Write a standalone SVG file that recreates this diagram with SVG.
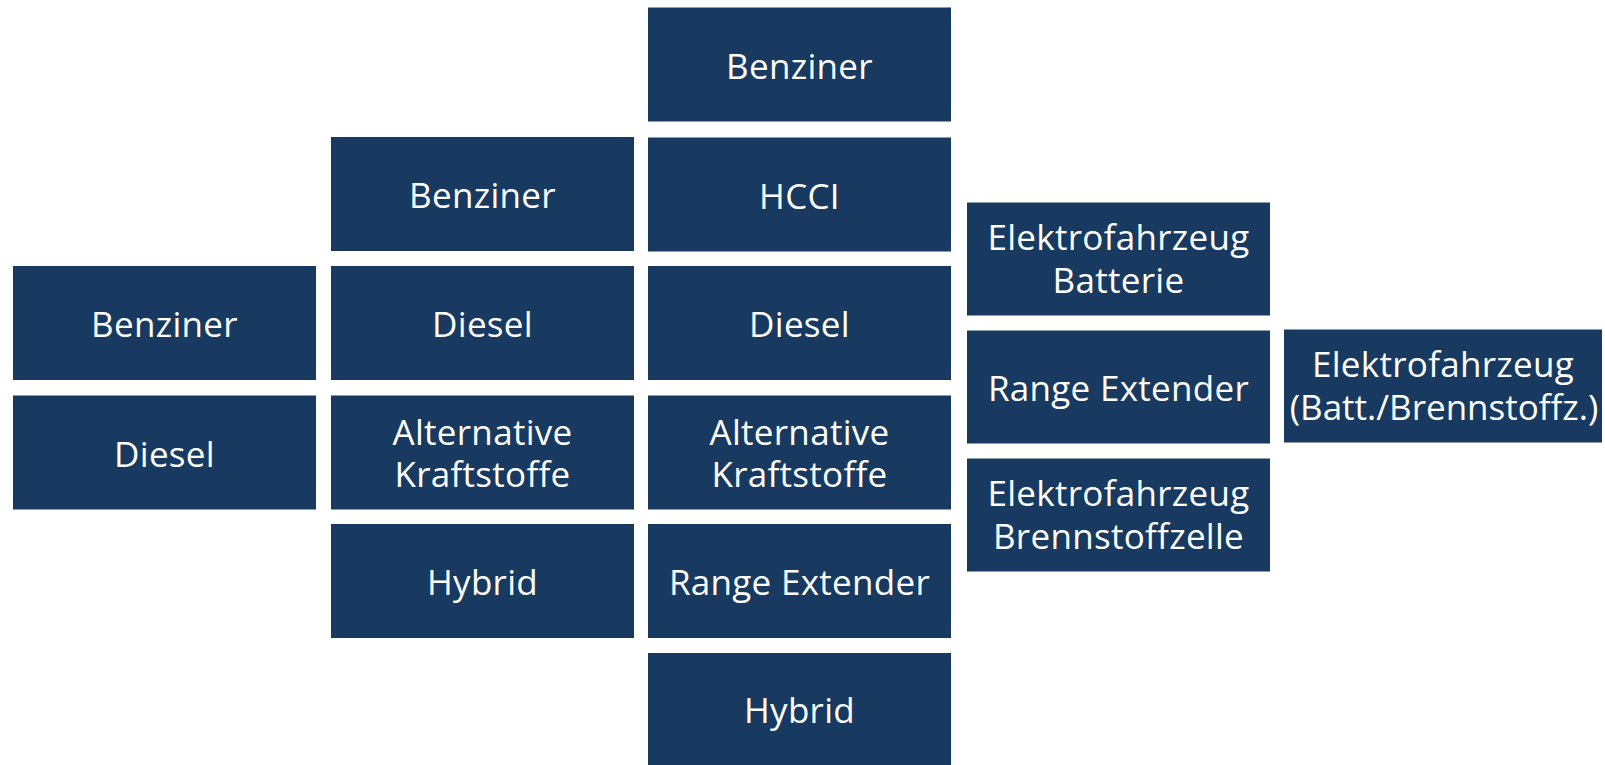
<svg xmlns="http://www.w3.org/2000/svg" width="1605" height="765" viewBox="0 0 1605 765">
<style>
.box{fill:#183a60}
.t{fill:#ffffff;font-family:"Open Sans","Noto Sans","Liberation Sans",sans-serif;font-size:35px;letter-spacing:0.3px;text-anchor:middle}
.tight{letter-spacing:0px}
</style>
<rect x="0" y="0" width="1605" height="765" fill="#ffffff"/>
<g id="c1-benziner"><rect class="box" x="13" y="266" width="303" height="114"/><text class="t" x="164.5" y="337">Benziner</text></g>
<g id="c1-diesel"><rect class="box" x="13" y="395.5" width="303" height="114"/><text class="t" x="164.5" y="466.5">Diesel</text></g>

<g id="c2-benziner"><rect class="box" x="331" y="137" width="303" height="114"/><text class="t" x="482.5" y="208">Benziner</text></g>
<g id="c2-diesel"><rect class="box" x="331" y="266" width="303" height="114"/><text class="t" x="482.5" y="337">Diesel</text></g>
<g id="c2-alt"><rect class="box" x="331" y="395.5" width="303" height="114"/><text class="t" x="482.5" y="444.5">Alternative</text><text class="t" x="482.5" y="487">Kraftstoffe</text></g>
<g id="c2-hybrid"><rect class="box" x="331" y="524" width="303" height="114"/><text class="t" x="482.5" y="595">Hybrid</text></g>

<g id="c3-benziner"><rect class="box" x="648" y="7.5" width="303" height="114"/><text class="t" x="799.5" y="78.5">Benziner</text></g>
<g id="c3-hcci"><rect class="box" x="648" y="137.5" width="303" height="114"/><text class="t" x="799.5" y="209">HCCI</text></g>
<g id="c3-diesel"><rect class="box" x="648" y="266" width="303" height="114"/><text class="t" x="799.5" y="337">Diesel</text></g>
<g id="c3-alt"><rect class="box" x="648" y="395.5" width="303" height="114"/><text class="t" x="799.5" y="444.5">Alternative</text><text class="t" x="799.5" y="487">Kraftstoffe</text></g>
<g id="c3-range"><rect class="box" x="648" y="524" width="303" height="114"/><text class="t" x="799.5" y="595">Range Extender</text></g>
<g id="c3-hybrid"><rect class="box" x="648" y="653" width="303" height="113"/><text class="t" x="799.5" y="723">Hybrid</text></g>

<g id="c4-batterie"><rect class="box" x="967" y="202.5" width="303" height="113"/><text class="t" x="1118.5" y="250">Elektrofahrzeug</text><text class="t" x="1118.5" y="293">Batterie</text></g>
<g id="c4-range"><rect class="box" x="967" y="330.5" width="303" height="113"/><text class="t" x="1118.5" y="401">Range Extender</text></g>
<g id="c4-bz"><rect class="box" x="967" y="458.5" width="303" height="113"/><text class="t" x="1118.5" y="506">Elektrofahrzeug</text><text class="t" x="1118.5" y="549">Brennstoffzelle</text></g>

<g id="c5-ev"><rect class="box" x="1284" y="329.5" width="318" height="113"/><text class="t" x="1443" y="377">Elektrofahrzeug</text><text class="t tight" x="1444" y="420">(Batt./Brennstoffz.)</text></g>
</svg>
